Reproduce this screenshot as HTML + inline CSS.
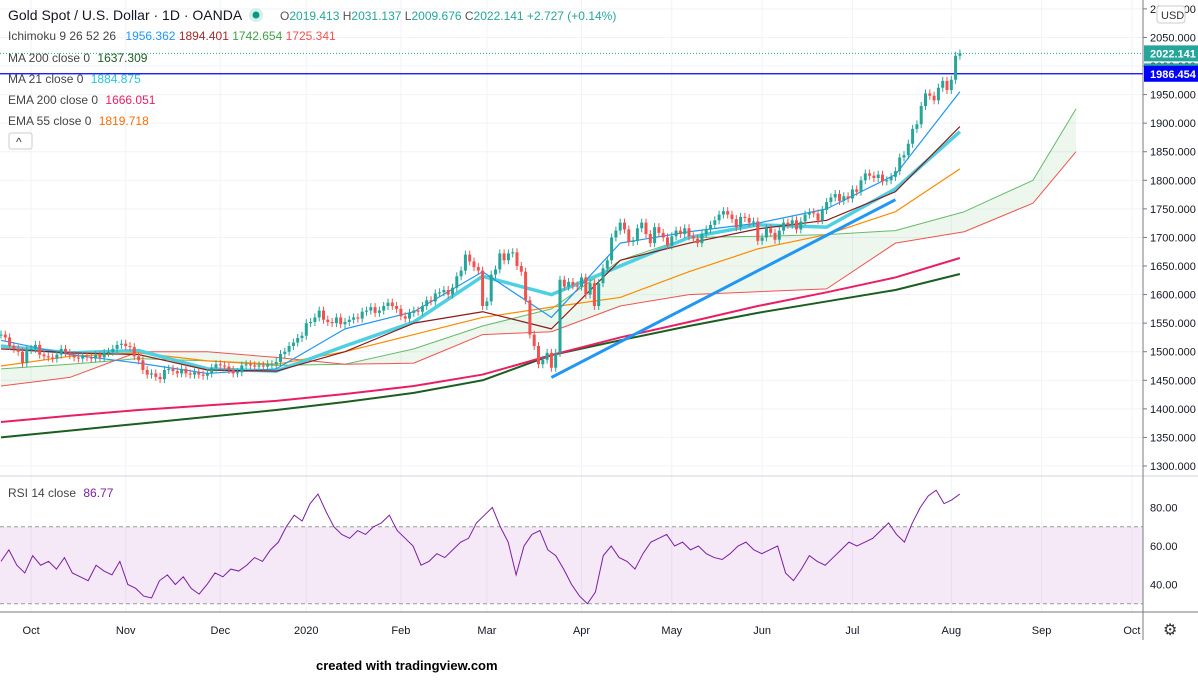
<!DOCTYPE html>
<html><head><meta charset="utf-8"><style>
body{margin:0;background:#fff;font-family:"Liberation Sans",sans-serif}
svg text{font-family:"Liberation Sans",sans-serif}
</style></head><body>
<svg id="c" width="1198" height="675" viewBox="0 0 1198 675" xmlns="http://www.w3.org/2000/svg">
<rect width="1198" height="675" fill="#fff"/>
<g id="grid"></g><g id="cloud"></g><g id="lines"></g><g id="candles"></g><g id="rsi"></g><g id="axes"></g>
<g font-size="12">
<text x="8" y="20" font-size="14" fill="#131722">Gold Spot / U.S. Dollar · 1D · OANDA</text>
<circle cx="256" cy="15" r="7" fill="#d7efec"/><circle cx="256" cy="15" r="3.5" fill="#089981"/>
<text x="280" y="20" font-size="12" fill="#555">O<tspan fill="#26a69a">2019.413</tspan> H<tspan fill="#26a69a">2031.137</tspan> L<tspan fill="#26a69a">2009.676</tspan> C<tspan fill="#26a69a">2022.141 +2.727 (+0.14%)</tspan></text>
<text x="8" y="40" fill="#444">Ichimoku 9 26 52 26 <tspan dx="6" fill="#2196f3">1956.362</tspan> <tspan fill="#a52a2a">1894.401</tspan> <tspan fill="#43a047">1742.654</tspan> <tspan fill="#ef5350">1725.341</tspan></text>
<text x="8" y="62" fill="#444">MA 200 close 0 <tspan dx="4" fill="#1b5e20">1637.309</tspan></text>
<text x="8" y="83" fill="#444">MA 21 close 0 <tspan dx="4" fill="#26c6da">1884.875</tspan></text>
<text x="8" y="104" fill="#444">EMA 200 close 0 <tspan dx="4" fill="#e91e63">1666.051</tspan></text>
<text x="8" y="125" fill="#444">EMA 55 close 0 <tspan dx="4" fill="#ff6d00">1819.718</tspan></text>
<rect x="9" y="133" width="23" height="16" rx="2" fill="#fff" stroke="#ccc"/>
<text x="16" y="146" fill="#333">^</text>
<text x="8" y="497" fill="#444">RSI 14 close <tspan dx="4" fill="#7b1fa2">86.77</tspan></text>
</g>
<text x="316" y="670" font-size="13" font-weight="bold" fill="#000">created with tradingview.com</text>
</svg>
<script>
const closes=[1530,1525,1510,1505,1500,1480,1503,1505,1512,1495,
1492,1490,1488,1495,1505,1498,1494,1490,1488,1492,
1490,1488,1494,1490,1498,1500,1505,1512,1514,1510,
1508,1492,1485,1468,1460,1462,1456,1452,1468,1470,
1466,1462,1470,1462,1460,1464,1460,1458,1462,1472,
1478,1476,1474,1468,1462,1464,1476,1478,1476,1474,
1476,1474,1478,1478,1482,1496,1500,1510,1516,1524,
1528,1550,1552,1560,1572,1556,1552,1550,1560,1548,
1552,1556,1560,1558,1570,1572,1578,1568,1572,1580,
1586,1580,1575,1562,1558,1568,1572,1570,1580,1590,
1588,1602,1604,1608,1600,1612,1632,1642,1670,1658,
1648,1642,1580,1588,1635,1644,1672,1660,1672,1674,
1650,1640,1590,1530,1510,1478,1486,1498,1472,1498,
1626,1614,1622,1616,1614,1630,1600,1620,1580,1620,
1646,1660,1700,1712,1726,1714,1692,1694,1716,1726,
1706,1690,1718,1708,1700,1686,1702,1712,1706,1716,
1702,1698,1690,1706,1714,1722,1730,1740,1746,1740,
1732,1718,1736,1734,1726,1728,1694,1700,1716,1708,
1696,1712,1726,1722,1730,1714,1728,1740,1744,1742,
1730,1748,1762,1770,1776,1764,1772,1768,1784,1780,
1800,1812,1808,1804,1810,1798,1800,1806,1816,1840,
1844,1864,1890,1898,1930,1952,1948,1940,1962,1974,
1958,1976,2018,2022];
const rsiVals=[52,58,50,46,55,50,52,48,54,46,44,42,50,47,45,52,40,38,34,33,42,45,40,44,38,35,40,46,44,48,47,50,54,52,58,62,70,76,73,82,87,78,70,66,64,68,66,70,72,76,68,64,60,50,52,56,54,58,62,64,72,76,80,70,62,45,60,66,68,58,55,48,40,34,30,36,55,60,54,52,48,56,62,64,66,60,62,58,60,56,54,53,56,60,62,58,56,58,60,46,42,48,55,52,50,54,58,62,60,62,64,68,72,66,62,72,80,86,89,82,84,87];
const lineIdx=[0,16,32,48,64,80,96,112,128,144,160,176,192,208,223];
const ma200=[1350,1362,1374,1386,1398,1412,1428,1450,1494,1520,1545,1568,1588,1608,1636];
const ema200=[1377,1388,1398,1406,1414,1426,1440,1460,1494,1525,1552,1580,1604,1630,1664];
const ema55=[1475,1492,1498,1484,1478,1500,1530,1560,1578,1595,1640,1680,1705,1745,1820];
const ma21=[1510,1498,1502,1470,1466,1510,1552,1632,1600,1650,1700,1722,1718,1785,1885];
const tenkan=[1520,1495,1480,1462,1470,1540,1570,1640,1560,1690,1710,1725,1750,1810,1955];
const kijun=[1505,1498,1495,1468,1466,1500,1550,1570,1540,1660,1690,1715,1730,1780,1894];
const cloudIdx=[0,16,32,48,64,80,96,112,128,144,160,176,192,208,224,240,250];
const spanA=[1470,1478,1488,1484,1476,1478,1505,1545,1575,1660,1700,1702,1705,1712,1745,1800,1925];
const spanB=[1440,1455,1500,1500,1490,1478,1480,1530,1535,1580,1600,1605,1610,1690,1710,1760,1850];
const priceTicks=[1300,1350,1400,1450,1500,1550,1600,1650,1700,1750,1800,1850,1900,1950,2000,2050,2100];
const rsiTicks=[40,60,80];
const months=["Oct","Nov","Dec","2020","Feb","Mar","Apr","May","Jun","Jul","Aug","Sep","Oct"];
const monthBars=[7,29,51,71,93,113,135,156,177,198,221,242,263];
const trend=[[128,1455],[208,1766]];

const X=i=>1+i*4.3, Y=p=>466-(p-1300)*0.5714, RY=v=>546-(v-60)*1.925;
const NS="http://www.w3.org/2000/svg";
function mk(t,a,parent){const e=document.createElementNS(NS,t);for(const k in a)e.setAttribute(k,a[k]);document.getElementById(parent).appendChild(e);return e;}
priceTicks.forEach(p=>{if(Y(p)>0){const l=mk('line',{x1:0,x2:1143,y1:Y(p),y2:Y(p),stroke:'#f0f3fa'},'grid');

}});
monthBars.forEach(b=>{const l=mk('line',{x1:X(b),x2:X(b),y1:0,y2:612,stroke:'#f0f3fa'},'grid');

});
const cloudTop=cloudIdx.map((b,i)=>X(b)+','+Y(spanA[i])).join(' ');
const cloudBot=cloudIdx.map((b,i)=>X(b)+','+Y(spanB[i])).reverse().join(' ');
const cf=mk('polygon',{points:cloudTop+' '+cloudBot,fill:'rgba(76,175,80,0.1)'},'cloud');


function line(idx,vals,color,w,name,g){const pts=idx.map((b,i)=>X(b)+','+Y(vals[i])).join(' ');
const e=mk('polyline',{points:pts,fill:'none',stroke:color,'stroke-width':w,'stroke-linejoin':'round'},g||'lines');

}
line(cloudIdx,spanA,'#66bb6a',1,'senkou-span-a','cloud');
line(cloudIdx,spanB,'#ef5350',1,'senkou-span-b','cloud');
line(lineIdx,ma200,'#1b5e20',2,'ma-200');
line(lineIdx,ema200,'#e91e63',2,'ema-200');
line(lineIdx,ema55,'#ff8a00',1.2,'ema-55');
line(lineIdx,ma21,'#4dd0e1',3.5,'ma-21');
line(lineIdx,tenkan,'#2196f3',1.2,'tenkan-sen');
line(lineIdx,kijun,'#8b1a1a',1.2,'kijun-sen');
line(trend.map(t=>t[0]),trend.map(t=>t[1]),'#2196f3',3,'trendline');
const hl=mk('line',{x1:0,x2:1143,y1:Y(1986.454),y2:Y(1986.454),stroke:'#0000ff','stroke-width':1.2},'lines');


const pl=mk('line',{x1:0,x2:1143,y1:Y(2022.141),y2:Y(2022.141),stroke:'#26a69a','stroke-dasharray':'1 2'},'lines');


closes.forEach((c,i)=>{const o=i?closes[i-1]:c;const up=c>=o;const col=up?'#26a69a':'#ef5350';
const h=Math.max(o,c)+7,l=Math.min(o,c)-7;
const w=mk('line',{x1:X(i),x2:X(i),y1:Y(h),y2:Y(l),stroke:col},'candles');


const b=mk('rect',{x:X(i)-1.5,y:Y(Math.max(o,c)),width:3,height:Math.max(1,Math.abs(Y(o)-Y(c))),fill:col},'candles');

});
const sep=mk('line',{x1:0,x2:1198,y1:476,y2:476,stroke:'#d1d4dc'},'rsi');


const band=mk('rect',{x:0,y:RY(70),width:1143,height:RY(30)-RY(70),fill:'rgba(156,39,176,0.1)'},'rsi');


[70,30].forEach(v=>{const e=mk('line',{x1:0,x2:1143,y1:RY(v),y2:RY(v),stroke:'#999','stroke-dasharray':'4 3'},'rsi');

});
const rsiStep=(closes.length-1)/(rsiVals.length-1);
const rp=mk('polyline',{points:rsiVals.map((v,i)=>X(i*rsiStep)+','+RY(v)).join(' '),fill:'none',stroke:'#7b1fa2','stroke-width':1},'rsi');


const ax=mk('line',{x1:1143,x2:1143,y1:0,y2:640,stroke:'#787b86'},'axes');


const bx=mk('line',{x1:0,x2:1198,y1:612,y2:612,stroke:'#787b86'},'axes');


priceTicks.forEach(p=>{const y=Y(p);if(y<5)return;
const t=mk('text',{x:1150,y:y+4,'font-size':11,fill:'#131722'},'axes');t.textContent=p.toFixed(3);


mk('line',{x1:1143,x2:1147,y1:y,y2:y,stroke:'#787b86'},'axes');});
rsiTicks.forEach(v=>{const t=mk('text',{x:1150,y:RY(v)+4,'font-size':11,fill:'#131722'},'axes');t.textContent=v.toFixed(2);

});
months.forEach((m,i)=>{const t=mk('text',{x:X(monthBars[i]),y:634,'font-size':11,fill:'#131722','text-anchor':'middle'},'axes');t.textContent=m;

});
function tag(y,txt,bg,name){const r=mk('rect',{x:1144,y:y-8,width:54,height:16,fill:bg},'axes');


const t=mk('text',{x:1150,y:y+4,'font-size':11,'font-weight':'bold',fill:'#fff'},'axes');t.textContent=txt;}
tag(Y(2022.141),'2022.141','#26a69a','last-price-tag');
tag(Y(2022.141)+18,'15:33:07','#26a69a','countdown-tag');
tag(Y(1986.454),'1986.454','#0000ff','level-tag');
const u=mk('rect',{x:1157,y:6,width:28,height:17,rx:3,fill:'#fff',stroke:'#ccc'},'axes');


const ut=mk('text',{x:1161,y:19,'font-size':11,fill:'#333'},'axes');ut.textContent='USD';
const g=mk('text',{x:1163,y:635,'font-size':16,fill:'#333'},'axes');g.textContent='⚙';


</script>
</body></html>
